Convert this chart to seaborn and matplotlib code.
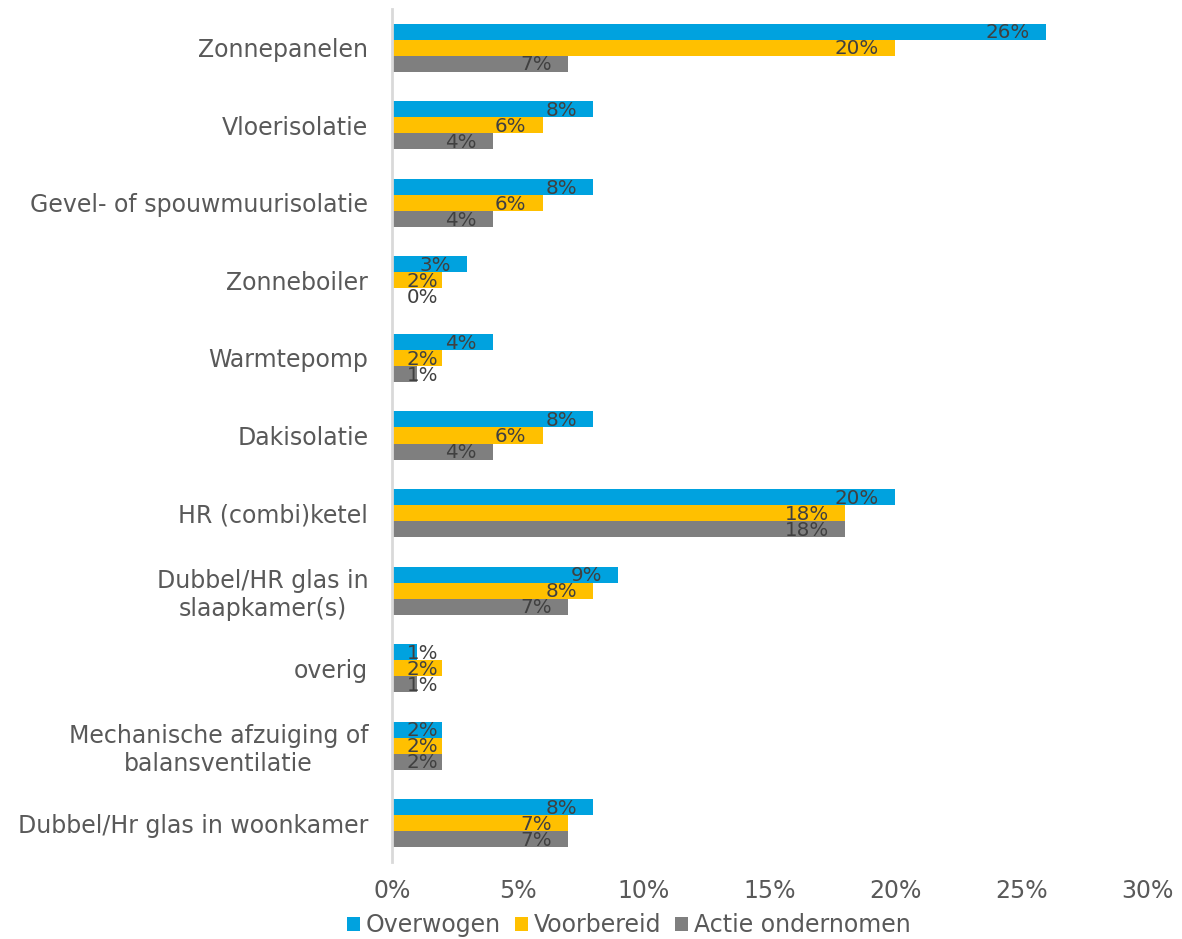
import pandas as pd
import matplotlib.pyplot as plt
import seaborn as sns

# data (percentages)
categories = [
    'Zonnepanelen',
    'Vloerisolatie',
    'Gevel- of spouwmuurisolatie',
    'Zonneboiler',
    'Warmtepomp',
    'Dakisolatie',
    'HR (combi)ketel',
    'Dubbel/HR glas in\nslaapkamer(s)',
    'overig',
    'Mechanische afzuiging of\nbalansventilatie',
    'Dubbel/Hr glas in woonkamer',
]
series = ['Overwogen', 'Voorbereid', 'Actie ondernomen']
overwogen = [26, 8, 8, 3, 4, 8, 20, 9, 1, 2, 8]
voorbereid = [20, 6, 6, 2, 2, 6, 18, 8, 2, 2, 7]
actie = [7, 4, 4, 0, 1, 4, 18, 7, 1, 2, 7]
colors = ['#00A2DF', '#FFC000', '#7F7F7F']

df = pd.DataFrame({
    'categorie': categories * 3,
    'serie': [s for s in series for _ in categories],
    'waarde': overwogen + voorbereid + actie,
})

sns.set_style('white')
plt.rcParams['font.family'] = ['DejaVu Sans']

fig = plt.figure(figsize=(11.82, 9.39), dpi=100)
ax = fig.add_axes([0.3316, 0.082, 0.6388, 0.9084])

sns.barplot(data=df, y='categorie', x='waarde', hue='serie', order=categories,
            hue_order=series, palette=colors, orient='h', width=0.62,
            saturation=1, ax=ax, errorbar=None, linewidth=0, edgecolor='none')

# value labels, Excel style "inside end"
for cont in ax.containers:
    for patch in cont:
        w = patch.get_width()
        y = patch.get_y() + patch.get_height() / 2
        ax.text(max(w - 0.65, 1.83), y + 0.015, f'{w:.0f}%', ha='right', va='center',
                fontsize=14.3, color='#404040')

ax.set_xlim(0, 30)
ax.set_ylim(10.5, -0.5)
ax.set_xticks([0, 5, 10, 15, 20, 25, 30])
ax.set_xticklabels([f'{t}%' for t in [0, 5, 10, 15, 20, 25, 30]])
ax.set_xlabel('')
ax.set_ylabel('')
ax.tick_params(axis='x', labelsize=17, colors='#595959', length=0, pad=12)
ax.tick_params(axis='y', labelsize=17, colors='#595959', length=0, pad=17)
for lab in ax.get_yticklabels():
    lab.set_multialignment('center')

for s in ['top', 'right', 'bottom']:
    ax.spines[s].set_visible(False)
ax.spines['left'].set_color('#D9D9D9')
ax.spines['left'].set_linewidth(2)

handles, labels = ax.get_legend_handles_labels()
ax.get_legend().remove()
leg = fig.legend(handles, labels, loc='center', bbox_to_anchor=(0.532, 0.0149), ncol=3,
                 frameon=False, fontsize=17, handlelength=0.55, handleheight=0.55,
                 handletextpad=0.25, columnspacing=0.6, borderaxespad=0)
for t in leg.get_texts():
    t.set_color('#595959')

fig.savefig('out.png', dpi=100)
